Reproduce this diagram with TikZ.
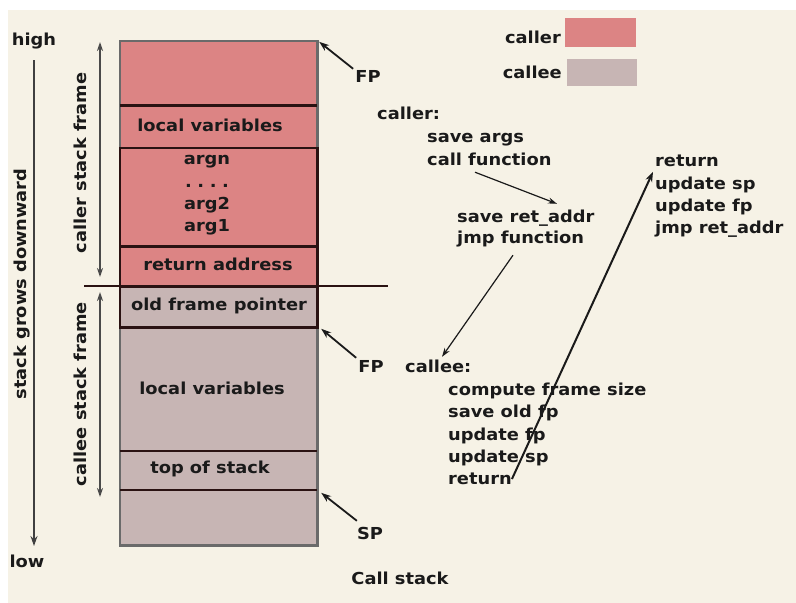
\documentclass[tikz,border=0pt]{standalone}
\usepackage{fontspec}
\setmainfont{DejaVu Sans Bold}[FakeStretch=1.08]
\usetikzlibrary{arrows.meta,calc}
\definecolor{bg}{HTML}{F6F2E6}
\definecolor{callerc}{HTML}{DC8484}
\definecolor{calleec}{HTML}{C7B5B4}
\definecolor{darkline}{HTML}{2A1212}
\definecolor{greyline}{HTML}{6A6A6A}
\definecolor{ink}{HTML}{1A1A1A}
\begin{document}
\begin{tikzpicture}[x=1pt,y=-1pt,
  txt/.style={inner sep=0pt,text=ink,font=\fontsize{16.5}{20}\selectfont,text height=12.5pt,text depth=3.5pt},
  cell/.style={inner sep=0pt,minimum width=197pt,draw=none},
  ptr/.style={-{Stealth[length=10pt,width=7pt]},line width=1.8pt,draw=ink},
  flow/.style={-{Stealth[length=9pt,width=6pt]},line width=1.2pt,draw=ink},
  span/.style={{Stealth[length=9pt,width=6pt]}-{Stealth[length=9pt,width=6pt]},line width=1.6pt,draw=greyline!70!black},
  down/.style={-{Stealth[length=10pt,width=7pt]},line width=1.6pt,draw=greyline!60!black}]
\useasboundingbox (0,0) rectangle (796,603);
\fill[white] (0,0) rectangle (796,603);
\fill[bg] (8,10) rectangle (796,603);

% stack cells
\node[cell,fill=callerc,minimum height=64pt] (top) at (218.5,73) {};
\node[cell,fill=callerc,minimum height=43pt] (lv1) at (218.5,126.5) {};
\node[cell,fill=callerc,minimum height=98pt] (args) at (218.5,197) {};
\node[cell,fill=callerc,minimum height=40pt] (ra) at (218.5,266) {};
\node[cell,fill=calleec,minimum height=41pt] (ofp) at (218.5,306.5) {};
\node[cell,fill=calleec,minimum height=124pt] (lv2) at (218.5,389) {};
\node[cell,fill=calleec,minimum height=39pt] (tos) at (218.5,470.5) {};
\node[cell,fill=calleec,minimum height=55pt] (bot) at (218.5,517.5) {};
\draw[greyline,line width=2.6pt] (top.north west) rectangle (bot.south east);
\draw[darkline,line width=2.6pt] (top.south west) -- (top.south east);
\draw[darkline,line width=2.6pt] (args.north west) rectangle (args.south east);
\draw[darkline,line width=2.6pt] (ra.north west) rectangle (ra.south east);
\draw[darkline,line width=2.6pt] (ofp.north west) rectangle (ofp.south east);
\draw[darkline,line width=2.6pt] (tos.north west) -- (tos.north east);
\draw[darkline,line width=2.6pt] (bot.north west) -- (bot.north east);
\coordinate (sepL) at (84,286);
\coordinate (sepR) at (388,286);
\draw[darkline,line width=2.6pt] (sepL) -- (sepR);

% stack texts
\node[txt] at (210,127) {local variables};
\node[txt] at (207,160) {argn};
\node[txt] at (207,183) {.\,\,.\,\,.\,\,.};
\node[txt] at (207,205) {arg2};
\node[txt] at (207,227) {arg1};
\node[txt] at (218,266) {return address};
\node[txt] at (219,306) {old frame pointer};
\node[txt] at (212,390) {local variables};
\node[txt] at (210,469) {top of stack};

% left side
\node[txt] (high) at (34,41) {high};
\node[txt] (low) at (27,563) {low};
\coordinate (gtop) at (34,60);
\coordinate (gbot) at (34,546);
\draw[down] (gtop) -- (gbot);
\node[txt,rotate=90] at (22,284) {stack grows downward};
\coordinate (c1a) at (100,42);
\coordinate (c1b) at (100,277);
\draw[span] (c1a) -- (c1b);
\node[txt,rotate=90] at (82,163) {caller stack frame};
\coordinate (c2a) at (100,292);
\coordinate (c2b) at (100,497);
\draw[span] (c2a) -- (c2b);
\node[txt,rotate=90] at (82,394) {callee stack frame};

% pointers
\node[txt] (fp1) at (368,78) {FP};
\draw[ptr] ($(fp1.north west)+(-2,-1)$) -- ($(top.north east)+(2,1)$);
\node[txt] (fp2) at (371,368) {FP};
\draw[ptr] ($(fp2.north west)+(-2,-2)$) -- ($(lv2.north east)+(4,2)$);
\node[txt] (sp) at (370,535) {SP};
\draw[ptr] ($(sp.north west)+(0,-6)$) -- ($(bot.north east)+(4,3)$);
\node[txt] (cs) at (400,580) {Call stack};

% legend
\node[txt,anchor=east] (lgr) at (561,39) {caller};
\node[inner sep=0pt,fill=callerc,minimum width=71pt,minimum height=29pt,anchor=west] (lgrbox) at (565,32.5) {};
\node[txt,anchor=east] (lge) at (562,74) {callee};
\node[inner sep=0pt,fill=calleec,minimum width=70pt,minimum height=27pt,anchor=west] (lgebox) at (567,72.5) {};

% caller block
\node[txt,anchor=west] (callerl) at (377,115) {caller:};
\node[txt,anchor=west] (sargs) at (427,138) {save args};
\node[txt,anchor=west] (callf) at (427,161) {call function};
\node[txt,anchor=west] (sra) at (457,218) {save ret\_addr};
\node[txt,anchor=west] (jmpf) at (457,239) {jmp function};
\draw[flow] ($(callf.south west)+(48,3)$) -- ($(sra.north west)+(100,-6)$);

% callee block
\node[txt,anchor=west] (calleel) at (405,368) {callee:};
\node[txt,anchor=west] (cfs) at (448,391) {compute frame size};
\node[txt,anchor=west] (sofp) at (448,413) {save old fp};
\node[txt,anchor=west] (ufp) at (448,436) {update fp};
\node[txt,anchor=west] (usp) at (448,458) {update sp};
\node[txt,anchor=west] (ret1) at (448,480) {return};
\draw[flow] ($(jmpf.south west)+(56,8)$) -- ($(calleel.north west)+(37,-3)$);

% epilogue block
\node[txt,anchor=west] (ret2) at (655,162) {return};
\node[txt,anchor=west] (usp2) at (655,185) {update sp};
\node[txt,anchor=west] (ufp2) at (655,207) {update fp};
\node[txt,anchor=west] (jra) at (655,229) {jmp ret\_addr};
\draw[ptr,line width=2pt] ($(ret1.east)+(0,-1)$) -- ($(usp2.north west)+(-2,-5)$);
\end{tikzpicture}
\end{document}
